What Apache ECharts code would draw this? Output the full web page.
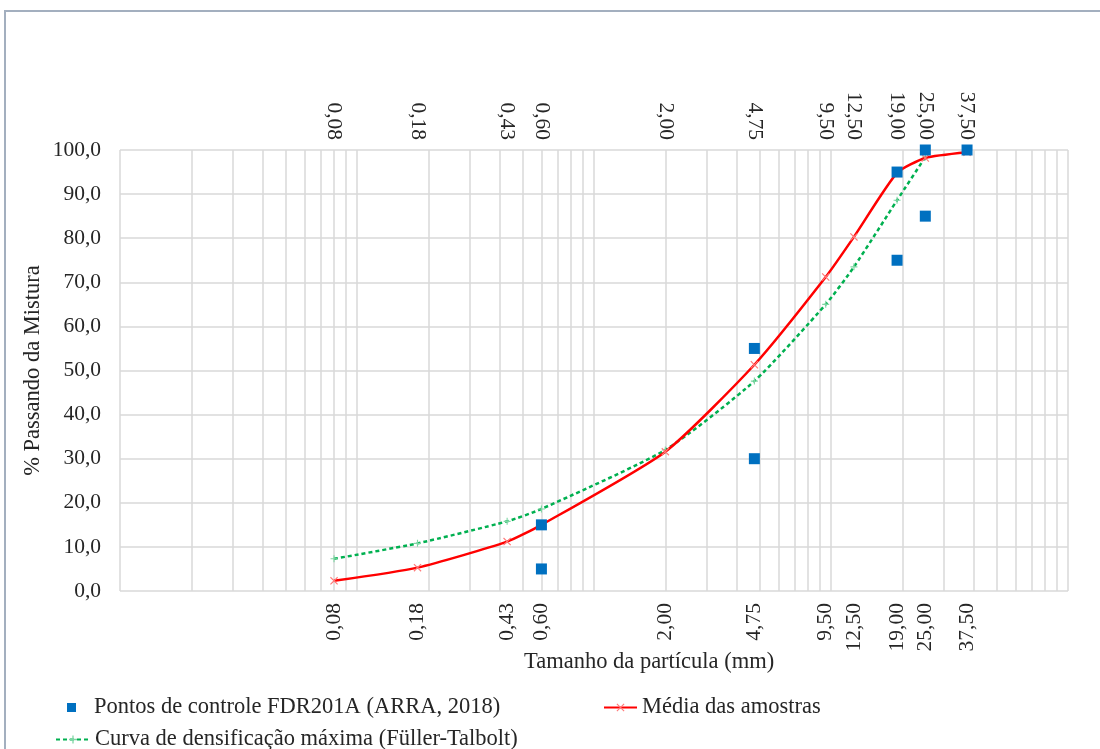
<!DOCTYPE html>
<html>
<head>
<meta charset="utf-8">
<script src="https://cdn.jsdelivr.net/npm/echarts@6/dist/echarts.min.js"></script>
<style>
  html, body { margin: 0; padding: 0; background: #ffffff; }
  #chart { width: 1100px; height: 749px; }
</style>
</head>
<body>
<div id="chart"></div>
<script>
// Sieve openings (mm) shown as labels on the top and bottom axes
const sieveSizes = [0.08, 0.18, 0.43, 0.60, 2.00, 4.75, 9.50, 12.50, 19.00, 25.00, 37.50];

// Average grading of the samples (% passing) at each sieve
const meanPassing = [2.3, 5.3, 11.2, 15.0, 31.6, 51.3, 71.2, 80.3, 94.8, 98.2, 99.5];

// Maximum density curve (Füller-Talbot), sieves 0.08 .. 25.00
const fullerSizes = [0.08, 0.18, 0.43, 0.60, 2.00, 4.75, 9.50, 12.50, 19.00, 25.00];
const fullerPassing = [7.3, 10.8, 15.8, 18.6, 32.0, 47.6, 65.0, 73.5, 88.6, 98.4];

// FDR201A control points (ARRA, 2018): sieve, % passing
const controlSizes = [0.60, 0.60, 4.75, 4.75, 19.00, 19.00, 25.00, 25.00, 37.50];
const controlPassing = [15, 5, 55, 30, 95, 75, 100, 85, 100];

// Logarithmic grid lines on the size axis
const gridValues = [
  0.01, 0.02, 0.03, 0.04, 0.05, 0.06, 0.07, 0.08, 0.09,
  0.1, 0.2, 0.3, 0.4, 0.5, 0.6, 0.7, 0.8, 0.9,
  1, 2, 3, 4, 5, 6, 7, 8, 9,
  10, 20, 30, 40, 50, 60, 70, 80, 90, 100
];

const seriesNames = [
  'Pontos de controle FDR201A (ARRA, 2018)',
  'Média das amostras',
  'Curva de densificação máxima (Füller-Talbolt)'
];

const FONT = '"Liberation Serif", "DejaVu Serif", serif';
const TEXT = '#262626';
const GRID = '#d9d9d9';
const TICK_SIZE = 21.5;
const TITLE_SIZE = 22.5;

const commaFixed = (v, d) => Number(v).toFixed(d).replace('.', ',');
const xPairs = (xs, ys) => xs.map((x, i) => [x, ys[i]]);

// Thin "x" and "+" marker outlines
const crossPath = 'path://M0,1 L1,0 L5,4 L9,0 L10,1 L6,5 L10,9 L9,10 L5,6 L1,10 L0,9 L4,5 Z';
const plusPath = 'path://M0,4.2 L10,4.2 L10,5.8 L0,5.8 Z M4.2,0 L5.8,0 L5.8,10 L4.2,10 Z';

const sizeAxisBase = {
  type: 'log',
  logBase: 10,
  min: 0.01,
  max: 100,
  axisLine: { show: false },
  axisTick: { show: false, customValues: gridValues },
  minorTick: { show: false },
  axisLabel: {
    customValues: sieveSizes,
    rotate: 90,
    fontFamily: FONT,
    fontSize: TICK_SIZE,
    color: TEXT,
    margin: 12,
    formatter: v => commaFixed(v, 2)
  }
};

const legendText = { fontFamily: FONT, fontSize: TITLE_SIZE, color: TEXT };

const chart = echarts.init(document.getElementById('chart'), null, { renderer: 'canvas' });

chart.setOption({
  animation: false,
  backgroundColor: '#ffffff',
  grid: { left: 120, right: 32, top: 150, bottom: 158, containLabel: false },
  xAxis: [
    Object.assign({}, sizeAxisBase, {
      position: 'bottom',
      splitLine: { show: true, lineStyle: { color: GRID, width: 1.5 } }
    }),
    Object.assign({}, sizeAxisBase, {
      position: 'top',
      splitLine: { show: false },
      axisLabel: Object.assign({}, sizeAxisBase.axisLabel, { margin: 10 })
    })
  ],
  yAxis: {
    type: 'value',
    min: 0,
    max: 100,
    interval: 10,
    name: '% Passando da Mistura',
    nameLocation: 'middle',
    nameGap: 75,
    nameMoveOverlap: false,
    nameTextStyle: { fontFamily: FONT, fontSize: TITLE_SIZE, color: TEXT },
    axisLine: { show: false },
    axisTick: { show: false },
    axisLabel: {
      fontFamily: FONT,
      fontSize: TICK_SIZE,
      color: TEXT,
      margin: 19,
      formatter: v => commaFixed(v, 1)
    },
    splitLine: { show: true, lineStyle: { color: GRID, width: 1.5 } }
  },
  legend: [
    {
      data: [seriesNames[0]],
      left: 62, top: 691,
      itemWidth: 9, itemHeight: 9,
      textStyle: Object.assign({ padding: [0, 0, 0, 13] }, legendText)
    },
    {
      data: [seriesNames[1]],
      left: 598, top: 691,
      itemWidth: 33, itemHeight: 10,
      textStyle: legendText
    },
    {
      data: [seriesNames[2]],
      left: 50, top: 723,
      itemWidth: 34, itemHeight: 10,
      textStyle: legendText
    }
  ],
  graphic: [
    {
      type: 'rect',
      silent: true,
      shape: { x: 5, y: 11, width: 1200, height: 800 },
      style: { fill: 'none', stroke: '#a3afbf', lineWidth: 2 }
    },
    {
      type: 'text',
      silent: true,
      left: 524,
      top: 651,
      style: {
        text: 'Tamanho da partícula (mm)',
        font: TITLE_SIZE + 'px ' + FONT,
        fill: TEXT
      }
    }
  ],
  series: [
    {
      name: seriesNames[2],
      type: 'line',
      xAxisIndex: 0,
      data: xPairs(fullerSizes, fullerPassing),
      smooth: 0.2,
      symbol: plusPath,
      symbolSize: 7,
      itemStyle: { color: '#7fd6a4' },
      lineStyle: { color: '#00B050', width: 2.5, type: [4, 3] },
      z: 3
    },
    {
      name: seriesNames[1],
      type: 'line',
      xAxisIndex: 0,
      data: xPairs(sieveSizes, meanPassing),
      smooth: 0.2,
      symbol: crossPath,
      symbolSize: 8,
      itemStyle: { color: '#ff7a7a' },
      lineStyle: { color: '#FF0000', width: 2.5 },
      z: 4
    },
    {
      name: seriesNames[0],
      type: 'scatter',
      xAxisIndex: 0,
      data: xPairs(controlSizes, controlPassing),
      symbol: 'rect',
      symbolSize: 11,
      itemStyle: { color: '#0070C0', opacity: 1 },
      z: 5
    }
  ]
});
</script>
</body>
</html>
